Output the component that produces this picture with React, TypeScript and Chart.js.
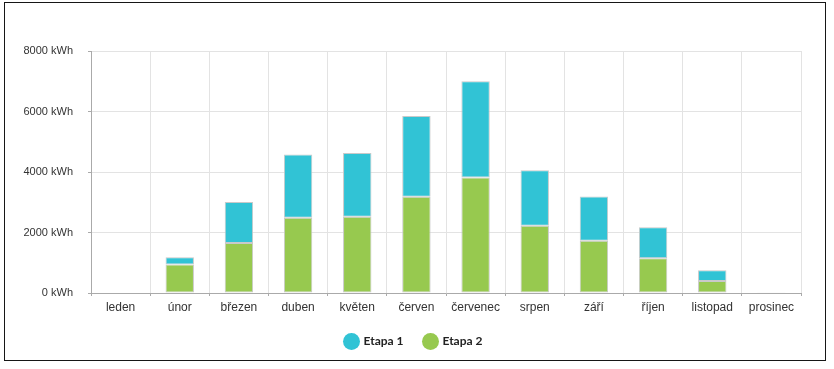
import React, { useEffect, useRef } from 'react';
import { Chart, registerables } from 'chart.js';

Chart.register(...registerables);

const months = ['leden', 'únor', 'březen', 'duben', 'květen', 'červen', 'červenec', 'srpen', 'září', 'říjen', 'listopad', 'prosinec'];
const etapa2 = [0, 940, 1650, 2490, 2520, 3180, 3820, 2220, 1730, 1150, 400, 25];
const etapa1 = [0, 240, 1360, 2090, 2110, 2670, 3180, 1840, 1460, 1020, 350, 0];
const yTicks = [0, 2000, 4000, 6000, 8000];
const unit = ' kWh';

const cyan = '#31c3d5';
const green = '#97c94f';

const shiftLegend = {
  id: 'shiftLegend',
  afterLayout(chart: any) {
    if (chart.legend) {
      chart.legend.left = 27;
    }
  },
};

export default function App() {
  const ref = useRef<HTMLCanvasElement | null>(null);

  useEffect(() => {
    if (!ref.current) return;
    const chart = new Chart(ref.current, {
      type: 'bar',
      data: {
        labels: months,
        datasets: [
          {
            label: 'Etapa 2',
            data: etapa2,
            backgroundColor: green,
            borderColor: '#c9c9c9',
            borderWidth: 1,
            borderSkipped: false,
            categoryPercentage: 0.8,
            barPercentage: 0.6,
          },
          {
            label: 'Etapa 1',
            data: etapa1,
            backgroundColor: cyan,
            borderColor: '#c9c9c9',
            borderWidth: 1,
            borderSkipped: false,
            categoryPercentage: 0.8,
            barPercentage: 0.6,
          },
        ],
      },
      plugins: [shiftLegend],
      options: {
        responsive: false,
        animation: false,
        layout: { padding: { top: 51, left: 0, right: 33, bottom: 11.5 } },
        plugins: {
          tooltip: { enabled: false },
          legend: {
            position: 'bottom',
            reverse: true,
            labels: {
              usePointStyle: true,
              pointStyle: 'circle',
              boxWidth: 12,
              boxHeight: 12,
              padding: 21,
              color: '#222',
              font: { family: 'Lato', weight: 'bold', size: 12 },
              generateLabels: (c: any) => {
                const items = (Chart.defaults.plugins.legend.labels as any).generateLabels(c);
                return items.map((i: any) => ({ ...i, strokeStyle: i.fillStyle, lineWidth: 0 }));
              },
            },
          },
        },
        scales: {
          x: {
            stacked: true,
            grid: { color: '#e3e3e3', tickLength: 3, tickColor: '#aaaaaa', offset: true },
            border: { color: '#aaaaaa', width: 1 },
            ticks: { color: '#333', padding: 4, font: { family: 'Liberation Sans', size: 12 }, maxRotation: 0 },
            afterFit: (s: any) => { s.height = 21.5; },
          },
          y: {
            stacked: true,
            min: 0,
            max: 8000,
            afterBuildTicks: (s: any) => { s.ticks = yTicks.map((v) => ({ value: v })); },
            grid: { color: '#e3e3e3', tickLength: 3, tickColor: '#aaaaaa' },
            border: { color: '#aaaaaa', width: 1 },
            ticks: {
              color: '#333',
              padding: 15,
              font: { family: 'Liberation Sans', size: 11 },
              callback: (v: any) => v + unit,
            },
            afterFit: (s: any) => { s.width = 91; },
          },
        },
      },
    });
    return () => chart.destroy();
  }, []);

  return (
    <div style={{ position: 'fixed', left: 0, top: 0, width: 834, height: 369, background: '#fff' }}>
      <canvas ref={ref} width={834} height={369} style={{ position: 'absolute', left: 0, top: 0 }} />
      <div
        style={{
          position: 'absolute',
          left: 4,
          top: 2,
          width: 822,
          height: 359,
          boxSizing: 'border-box',
          border: '1.5px solid #161616',
          pointerEvents: 'none',
        }}
      />
    </div>
  );
}
